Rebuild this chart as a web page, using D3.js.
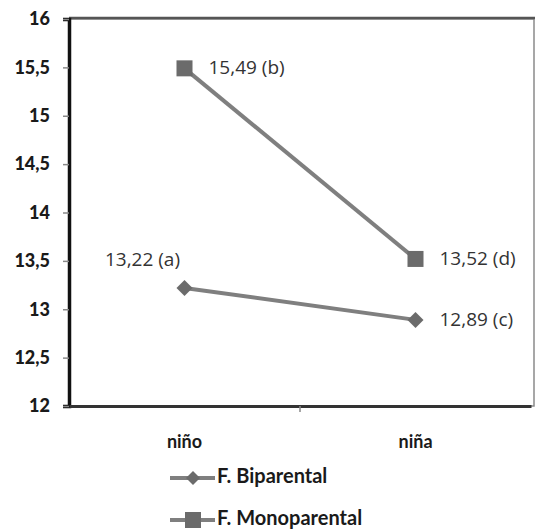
<!DOCTYPE html>
<html>
<head>
<meta charset="utf-8">
<script src="https://cdn.jsdelivr.net/npm/d3@7"></script>
<style>
  body { margin: 0; background: #fff; }
  text { font-family: Lato, "Open Sans", sans-serif; }
</style>
</head>
<body>
<div id="VisContainer"></div>
<script>
// chart data
var categories = ["niño", "niña"];
var seriesNames = ["F. Biparental", "F. Monoparental"];
var biparental = [13.22, 12.89];
var monoparental = [15.49, 13.52];
var biLabels = ["13,22 (a)", "12,89 (c)"];
var monoLabels = ["15,49 (b)", "13,52 (d)"];
var yTicks = [12, 12.5, 13, 13.5, 14, 14.5, 15, 15.5, 16];

var W = 536, H = 532;
var margin = {top: 19, right: 1, bottom: 126, left: 69};
var width = W - margin.left - margin.right,
    height = H - margin.top - margin.bottom;

var lineColor = "#7f7f7f",
    markColor = "#6b6b6b";

var svg = d3.select("#VisContainer").append("svg")
    .attr("width", W)
    .attr("height", H);

var g = svg.append("g")
    .attr("transform", "translate(" + margin.left + "," + margin.top + ")");

var x = d3.scaleBand().domain(categories).range([0, width - 4]);
var y = d3.scaleLinear().domain([12, 16]).range([height, 0]);

// frame (top + right)
g.append("rect")
  .attr("x", 0).attr("y", 0)
  .attr("width", width - 1).attr("height", height)
  .attr("fill", "none")
  .attr("stroke", "#8a8a8a")
  .attr("stroke-width", 1.5);
g.append("line")
  .attr("x1", 0).attr("x2", width)
  .attr("y1", -1).attr("y2", -1)
  .attr("stroke", "#555").attr("stroke-width", 2.5);

// y axis
var yAxis = d3.axisLeft(y)
    .tickValues(yTicks)
    .tickSize(6)
    .tickFormat(function(d){ return String(d).replace(".", ","); });
var gy = g.append("g").call(yAxis);
gy.select(".domain").attr("stroke", "#111").attr("stroke-width", 3.5);
gy.selectAll(".tick line").attr("stroke", "#888").attr("stroke-width", 1.5);
gy.selectAll(".tick text")
  .attr("x", -19)
  .attr("font-size", 18)
  .attr("font-weight", 900)
  .attr("fill", "#1a1a1a");

// x axis
var xAxis = d3.axisBottom(x).tickSize(0).tickSizeOuter(0);
var gx = g.append("g")
    .attr("transform", "translate(0," + height + ")")
    .call(xAxis);
gx.select(".domain").attr("stroke", "#333").attr("stroke-width", 3);
gx.selectAll(".tick text")
  .attr("y", 29)
  .attr("font-size", 18)
  .attr("font-weight", "bold")
  .attr("fill", "#1a1a1a");
// category boundary ticks
g.selectAll("line.xtick")
  .data([x(categories[1])])
  .enter().append("line")
  .attr("class", "xtick")
  .attr("x1", function(d){ return d; })
  .attr("x2", function(d){ return d; })
  .attr("y1", height).attr("y2", height + 6)
  .attr("stroke", "#888").attr("stroke-width", 1.5);

var cx = function(i){ return x(categories[i]) + x.bandwidth() / 2; };

var line = d3.line()
    .x(function(d, i){ return cx(i); })
    .y(function(d){ return y(d); });

// lines
g.append("path").datum(biparental)
  .attr("d", line).attr("fill", "none")
  .attr("stroke", lineColor).attr("stroke-width", 4);
g.append("path").datum(monoparental)
  .attr("d", line).attr("fill", "none")
  .attr("stroke", lineColor).attr("stroke-width", 4);

// markers
g.selectAll("path.diamond")
  .data(biparental)
  .enter().append("path")
  .attr("class", "diamond")
  .attr("d", "M0,-8L8,0L0,8L-8,0Z")
  .attr("fill", markColor)
  .attr("transform", function(d, i){ return "translate(" + cx(i) + "," + y(d) + ")"; });

g.selectAll("rect.square")
  .data(monoparental)
  .enter().append("rect")
  .attr("class", "square")
  .attr("x", function(d, i){ return cx(i) - 8; })
  .attr("y", function(d){ return y(d) - 8; })
  .attr("width", 16).attr("height", 16)
  .attr("fill", markColor);

// data labels
var labelStyle = function(sel){
  sel.style("font-family", "'Open Sans', sans-serif")
     .attr("font-size", 19).attr("fill", "#333").attr("dominant-baseline", "middle");
};
g.selectAll("text.monoLbl")
  .data(monoparental)
  .enter().append("text")
  .attr("class", "monoLbl")
  .attr("x", function(d, i){ return cx(i) + 24; })
  .attr("y", function(d){ return y(d) + 1; })
  .text(function(d, i){ return monoLabels[i]; })
  .call(labelStyle);

g.selectAll("text.biLbl")
  .data(biparental)
  .enter().append("text")
  .attr("class", "biLbl")
  .attr("x", function(d, i){ return i === 0 ? cx(i) - 42 : cx(i) + 24; })
  .attr("y", function(d, i){ return i === 0 ? y(d) - 27 : y(d) + 1; })
  .attr("text-anchor", function(d, i){ return i === 0 ? "middle" : "start"; })
  .text(function(d, i){ return biLabels[i]; })
  .call(labelStyle);

// legend
var legend = svg.selectAll("g.legend")
    .data(seriesNames)
    .enter().append("g")
    .attr("class", "legend")
    .attr("transform", function(d, i){ return "translate(170," + (478 + i * 42) + ")"; });

legend.append("line")
  .attr("x1", 0).attr("x2", 45)
  .attr("stroke", lineColor).attr("stroke-width", 4);
legend.each(function(d, i){
  var s = d3.select(this);
  if (i === 0) {
    s.append("path").attr("d", "M0,-7L7,0L0,7L-7,0Z")
      .attr("transform", "translate(23,0)").attr("fill", markColor);
  } else {
    s.append("rect").attr("x", 15).attr("y", -8)
      .attr("width", 16).attr("height", 16).attr("fill", markColor);
  }
});
legend.append("text")
  .attr("x", 47)
  .attr("dominant-baseline", "middle")
  .attr("font-size", 20)
  .attr("font-weight", "bold")
  .attr("fill", "#1a1a1a")
  .text(function(d){ return d; });
</script>
</body>
</html>
